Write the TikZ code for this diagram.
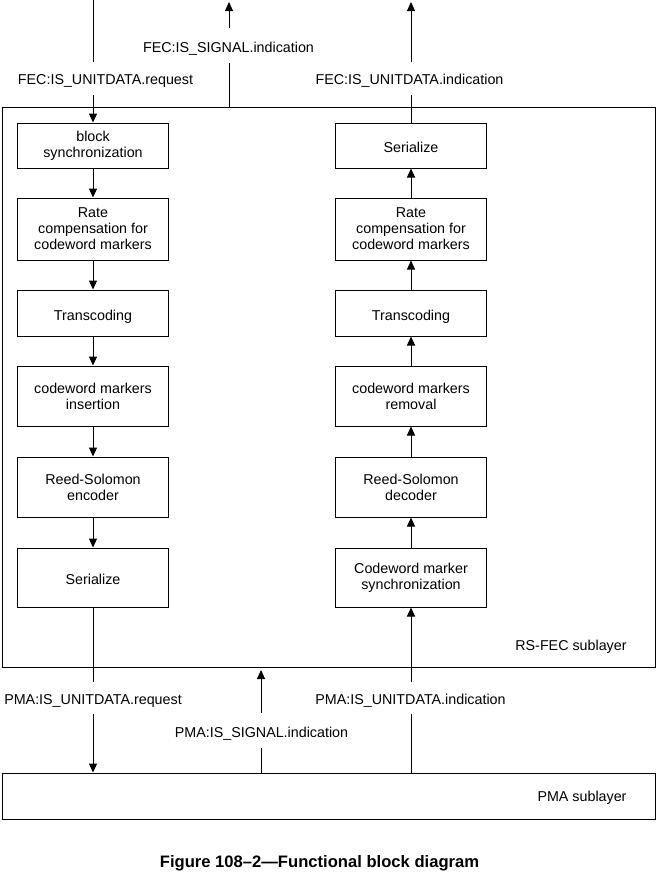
\documentclass[tikz,border=0pt]{standalone}
\usepackage{fontspec}
\setmainfont{Liberation Sans}
\usetikzlibrary{arrows.meta}
\begin{document}
\begin{tikzpicture}[x=1bp,y=-1bp,
  txt/.style={font=\fontsize{14.3bp}{16bp}\selectfont},
  blk/.style={draw,line width=1bp,minimum width=151bp,inner sep=0pt,align=center,txt},
  one/.style={text height=17.5bp,text depth=3bp},
  layer/.style={draw,line width=1bp,minimum width=652bp,inner sep=0pt},
  arr/.style={line width=1bp,-{Triangle[width=8bp,length=9bp]}},
  lab/.style={txt,fill=white,inner xsep=2bp,inner ysep=0pt,text height=16bp,text depth=3bp},
  tag/.style={txt,inner sep=0pt}]
\useasboundingbox (0,0) rectangle (657,875);
% layer boxes
\node[layer,minimum height=559bp] (rsfec) at (329,387.5) {};
\node[layer,minimum height=46bp] (pma) at (329,796) {};
\node[tag] (rstag) at (571,647) {RS-FEC sublayer};
\node[tag] (pmatag) at (582,798) {PMA sublayer};
% left column
\node[blk,minimum height=45bp] (L1) at (93,145.5) {block\\synchronization};
\node[blk,minimum height=62bp] (L2) at (93,229) {Rate\\compensation for\\codeword markers};
\node[blk,one,minimum height=46bp] (L3) at (93,313) {Transcoding};
\node[blk,minimum height=60bp] (L4) at (93,396) {codeword markers\\insertion};
\node[blk,minimum height=60bp] (L5) at (93,487) {Reed-Solomon\\encoder};
\node[blk,one,minimum height=59bp] (L6) at (93,577.5) {Serialize};
% right column
\node[blk,one,minimum height=45bp] (R1) at (411,145.5) {Serialize};
\node[blk,minimum height=62bp] (R2) at (411,229) {Rate\\compensation for\\codeword markers};
\node[blk,one,minimum height=46bp] (R3) at (411,313) {Transcoding};
\node[blk,minimum height=60bp] (R4) at (411,396) {codeword markers\\removal};
\node[blk,minimum height=60bp] (R5) at (411,487) {Reed-Solomon\\decoder};
\node[blk,minimum height=59bp] (R6) at (411,577.5) {Codeword marker\\synchronization};
% free ends
\coordinate (lt) at (93,0);
\coordinate (fs) at (229,2);
\coordinate (rt) at (411,2);
\coordinate (ps) at (261,670);
% connectors
\draw[arr] (lt) -- (L1);
\draw[arr] (rsfec.north -| fs) -- (fs);
\draw[arr] (R1) -- (rt);
\draw[arr] (L1) -- (L2);
\draw[arr] (L2) -- (L3);
\draw[arr] (L3) -- (L4);
\draw[arr] (L4) -- (L5);
\draw[arr] (L5) -- (L6);
\draw[arr] (R2) -- (R1);
\draw[arr] (R3) -- (R2);
\draw[arr] (R4) -- (R3);
\draw[arr] (R5) -- (R4);
\draw[arr] (R6) -- (R5);
\draw[arr] (L6) -- (L6 |- pma.north);
\draw[arr] (pma.north -| ps) -- (ps);
\draw[arr] (pma.north -| R6) -- (R6);
% labels
\node[lab,minimum height=33bp] (l1) at (105.5,78) {FEC:IS\_UNITDATA.request};
\node[lab,minimum height=35bp] (l2) at (228.5,45.5) {FEC:IS\_SIGNAL.indication};
\node[lab,minimum height=33bp] (l3) at (409.5,78) {FEC:IS\_UNITDATA.indication};
\node[lab,minimum height=32bp] (l4) at (93,698) {PMA:IS\_UNITDATA.request};
\node[lab,minimum height=35bp] (l5) at (261.5,730.5) {PMA:IS\_SIGNAL.indication};
\node[lab,minimum height=32bp] (l6) at (410.5,698) {PMA:IS\_UNITDATA.indication};
% caption
\node[inner sep=0pt,font=\fontsize{16.6bp}{19bp}\selectfont\bfseries] (cap) at (319.5,863) {Figure 108–2—Functional block diagram};
\end{tikzpicture}
\end{document}
